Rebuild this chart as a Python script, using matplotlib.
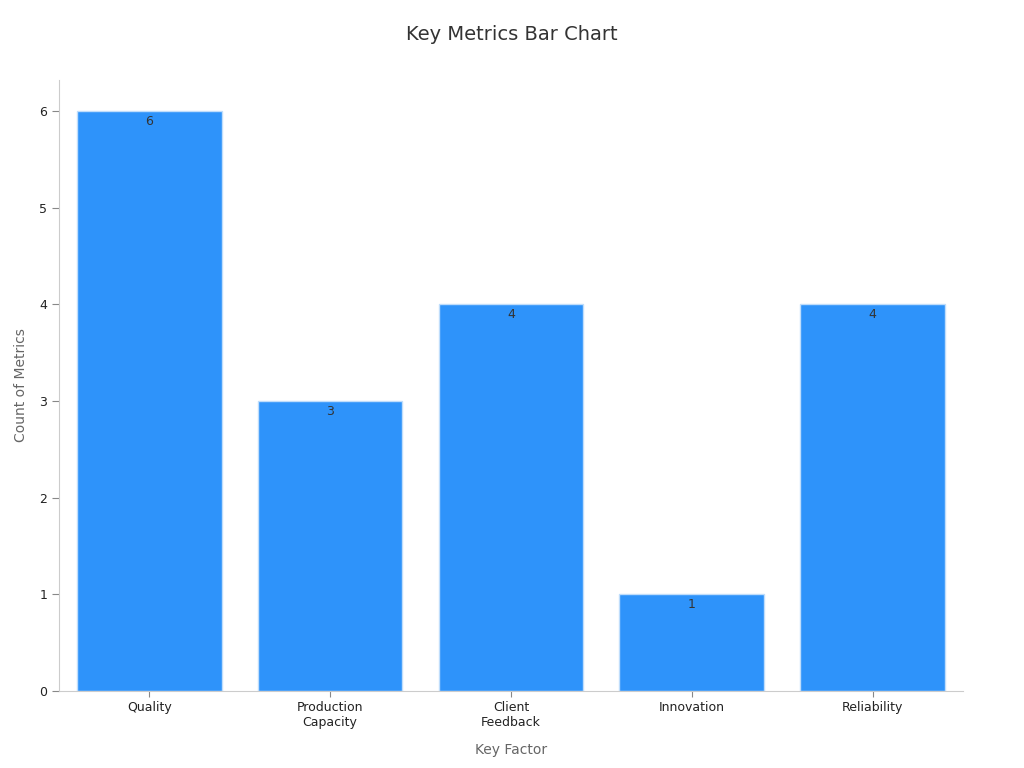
import matplotlib.pyplot as plt

factors = ["Quality", "Production\nCapacity", "Client\nFeedback", "Innovation", "Reliability"]
counts = [6, 3, 4, 1, 4]

fig = plt.figure(figsize=(10.24, 7.68), dpi=100)
ax = fig.add_axes([0.0576, 0.1003, 0.8828, 0.7957])

bars = ax.bar(range(len(factors)), counts, width=0.8, color="#2E93FA",
              edgecolor="#BFDDFB", linewidth=1)
for b, v in zip(bars, counts):
    ax.text(b.get_x() + b.get_width() / 2, v - 0.04, str(v), ha="center", va="top",
            fontsize=9, color="#333333")

ax.set_xlim(-0.5, 4.5)
ax.set_ylim(0, 6.32)
ax.set_xticks(range(len(factors)))
ax.set_xticklabels(factors, fontsize=9, color="#222222")
ax.set_yticks(range(7))
ax.tick_params(axis="y", labelsize=9, labelcolor="#222222", color="#888888", length=5)
ax.tick_params(axis="x", color="#888888", length=4)
for s in ["top", "right"]:
    ax.spines[s].set_visible(False)
for s in ["left", "bottom"]:
    ax.spines[s].set_color("#CCCCCC")

ax.set_xlabel("Key Factor", fontsize=10, color="#666666", labelpad=10)
ax.set_ylabel("Count of Metrics", fontsize=10, color="#666666", labelpad=8)
fig.suptitle("Key Metrics Bar Chart", fontsize=14, color="#333333", y=0.968)

fig.savefig("out.png", dpi=100)
